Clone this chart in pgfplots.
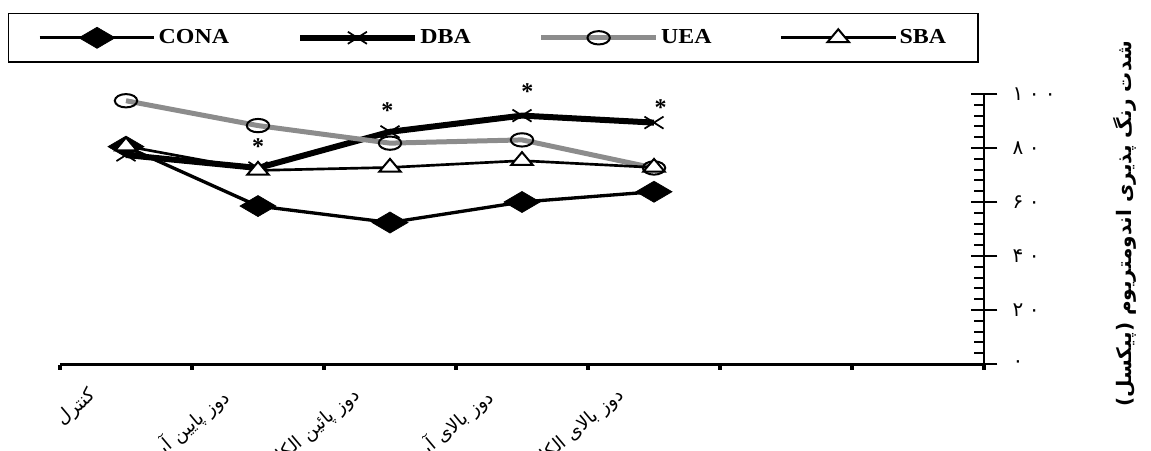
\documentclass[border=0pt]{standalone}
\usepackage{fontspec}
\usepackage{pgfplots}
\pgfplotsset{compat=1.18}
\setmainfont{Liberation Serif}
\newfontfamily\fa[Script=Arabic]{DejaVu Sans}
\newfontfamily\legfont[FakeStretch=1.12]{Liberation Serif}
\TeXXeTstate=1
\definecolor{ueagray}{RGB}{140,140,140}

\pgfplotstableread{
x cona dba uea sba
1 80.5 77.4 97.5 80.7
2 58.5 72.6 88.3 71.7
3 52.4 86.0 81.8 72.8
4 60.0 92.0 83.0 75.3
5 63.8 89.4 72.6 72.8
}\datatable

\pgfplotstableread{
x y
2.00 80.7
2.98 94.0
4.04 101.0
5.05 95.1
}\startable

\pgfplotstableread{
x y
0.5 -1.3
1.5 -1.3
2.5 -1.3
3.5 -1.3
4.5 -1.3
5.5 -1.3
6.5 -1.3
7.5 -1.3
}\nubtable

\begin{document}
\begin{tikzpicture}
\begin{axis}[
  at={(0,0)}, anchor=south west, scale only axis,
  width=693pt, height=202.5pt,
  xmin=0.5, xmax=7.5, ymin=0, ymax=100, clip=false,
  axis x line=bottom, axis y line=right,
  x axis line style={line width=2.25pt, -},
  y axis line style={line width=1.5pt, -},
  xtick={1,2,3,4,5},
  xticklabels={
    {\beginR کنترل\endR},
    {\beginR دوز پایین آبی\endR},
    {\beginR دوز پائین الکلی\endR},
    {\beginR دوز بالای آبی\endR},
    {\beginR دوز بالای الکلی\endR}},
  major x tick style={draw=none},
  x tick label style={rotate=40, anchor=north east, font=\fa\fontsize{14}{16}\selectfont, xshift=-23pt, yshift=17pt},
  ytick={0,20,...,100},
  yticklabels={{۰},{۲\kern4pt۰},{۴\kern4pt۰},{۶\kern4pt۰},{۸\kern4pt۰},{۱\kern4pt۰\kern4pt۰}},
  minor y tick num=4,
  tick align=center,
  major tick length=20pt,
  minor tick length=7.5pt,
  major y tick style={line width=1.5pt, black},
  minor y tick style={line width=1.5pt, black, xshift=-3.75pt},
  y tick label style={anchor=west, xshift=8pt, font=\fa\fontsize{15}{17}\selectfont},
  ylabel={\fa\bfseries\fontsize{15}{17}\selectfont\beginR شدت رنگ پذیری اندومتریوم (پیکسل)\endR},
  ylabel style={at={(axis description cs:1.1526,0.52)}, anchor=center, rotate=0},
  legend columns=4,
  legend image code/.code={\draw[mark repeat=2,mark phase=2,#1] plot coordinates {(0pt,0pt) (43pt,0pt) (86pt,0pt)};},
  legend style={at={(-0.0563,1.3)}, anchor=north west, draw=black, line width=1.1pt,
    inner xsep=22pt, inner ysep=10pt,
    font=\legfont\bfseries\fontsize{16}{18}\selectfont,
    /tikz/every even column/.append style={column sep=49pt}},
]
\addplot[black, line width=2.5pt, mark=diamond*, mark size=7.9pt,
  mark options={solid, fill=black, line width=0.5pt, xscale=2.28}] table[x=x,y=cona] {\datatable};
\addplot[black, line width=4.5pt, mark=x, mark size=6.4pt,
  mark options={solid, line width=1.3pt, xscale=1.58}] table[x=x,y=dba] {\datatable};
\addplot[ueagray, line width=3.75pt, mark=o, mark size=5pt,
  mark options={solid, draw=black, fill=white, line width=1.5pt, xscale=1.68}] table[x=x,y=uea] {\datatable};
\addplot[black, line width=2pt, mark=triangle*, mark size=6.4pt,
  mark options={solid, draw=black, fill=white, line width=1.5pt, xscale=1.45}] table[x=x,y=sba] {\datatable};
\legend{CONA,DBA,UEA,SBA}
\addplot[forget plot, draw=none, mark=none, nodes near coords={*},
  every node near coord/.append style={anchor=center, font=\bfseries\fontsize{18}{18}\selectfont}] table[x=x,y=y] {\startable};
\addplot[forget plot, only marks, mark=|, mark size=2.2pt, mark options={line width=3pt}] table[x=x,y=y] {\nubtable};
\end{axis}
\pgfresetboundingbox
\useasboundingbox (-45pt,-64.5pt) rectangle (818.25pt,273pt);
\end{tikzpicture}
\end{document}
